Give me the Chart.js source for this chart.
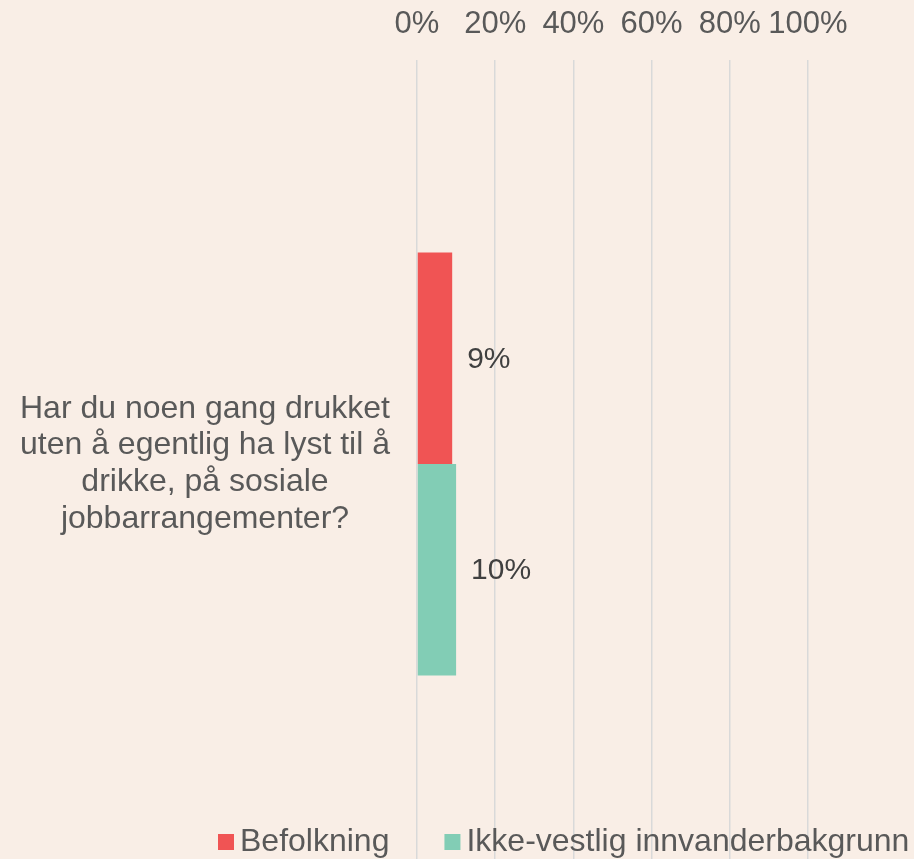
<!DOCTYPE html>
<html>
<head>
<meta charset="utf-8">
<script src="https://cdn.jsdelivr.net/npm/chart.js@4.4.0/dist/chart.umd.min.js"></script>
<style>
  html, body { margin: 0; padding: 0; overflow: hidden; background: #F9EEE6; }
  #wrap { width: 914px; height: 877px; }
</style>
</head>
<body>
<div id="wrap"><canvas id="chart" width="914" height="877"></canvas></div>
<script>
const categories = [
  ['Har du noen gang drukket', 'uten å egentlig ha lyst til å', 'drikke, på sosiale', 'jobbarrangementer?']
];
const seriesNames = ['Befolkning', 'Ikke-vestlig innvanderbakgrunn'];
const befolkning = [9];
const ikkeVestlig = [10];
const tickValues = [0, 20, 40, 60, 80, 100];

const colors = ['#F05454', '#82CDB5'];
const textGray = '#595959';
const fontFamily = '"Liberation Sans", Arial, sans-serif';

// value labels to the right of each bar
const barLabels = {
  id: 'barLabels',
  afterDatasetsDraw(chart) {
    const ctx = chart.ctx;
    ctx.save();
    ctx.font = '30px ' + fontFamily;
    ctx.fillStyle = '#404040';
    ctx.textAlign = 'left';
    ctx.textBaseline = 'middle';
    chart.data.datasets.forEach((ds, i) => {
      const meta = chart.getDatasetMeta(i);
      meta.data.forEach((bar, j) => {
        ctx.fillText(ds.data[j] + '%', bar.x + 15, bar.y + 1);
      });
    });
    ctx.restore();
  }
};

// legend drawn over the grid at the bottom, like the original
const bottomLegend = {
  id: 'bottomLegend',
  afterDraw(chart) {
    const ctx = chart.ctx;
    ctx.save();
    ctx.font = '32px ' + fontFamily;
    ctx.textBaseline = 'middle';
    ctx.textAlign = 'left';
    const y = 842;
    let x = 218;
    chart.data.datasets.forEach((ds, i) => {
      ctx.fillStyle = ds.backgroundColor;
      ctx.fillRect(x, y - 8, 16, 16);
      ctx.fillStyle = textGray;
      ctx.fillText(ds.label, x + 22, y);
      x += 22 + ctx.measureText(ds.label).width + 55;
    });
    ctx.restore();
  }
};

new Chart(document.getElementById('chart'), {
  type: 'bar',
  data: {
    labels: categories,
    datasets: [
      { label: seriesNames[0], data: befolkning, backgroundColor: colors[0] },
      { label: seriesNames[1], data: ikkeVestlig, backgroundColor: colors[1] }
    ]
  },
  options: {
    indexAxis: 'y',
    responsive: false,
    animation: false,
    layout: { padding: { top: 0, right: 106, bottom: 9, left: 0 } },
    datasets: {
      bar: { barPercentage: 1, categoryPercentage: 0.5235 }
    },
    scales: {
      x: {
        position: 'top',
        min: 0,
        max: 100,
        afterBuildTicks: scale => { scale.ticks = tickValues.map(v => ({ value: v })); },
        afterFit: scale => { scale.height = 60; scale.paddingLeft = 0; scale.paddingRight = 0; },
        grid: { color: '#D9D9D9', lineWidth: 1.5, drawTicks: false },
        border: { display: false },
        ticks: {
          padding: 17,
          maxRotation: 0,
          minRotation: 0,
          autoSkip: false,
          color: textGray,
          font: { family: fontFamily, size: 31 },
          callback: v => v + '%'
        }
      },
      y: {
        afterFit: scale => { scale.width = 417; scale.paddingTop = 0; scale.paddingBottom = 0; },
        grid: { display: false },
        border: { display: false },
        ticks: {
          padding: 19,
          crossAlign: 'center',
          color: textGray,
          font: { family: fontFamily, size: 32, lineHeight: 1.15 }
        }
      }
    },
    plugins: {
      legend: { display: false },
      tooltip: { enabled: false }
    }
  },
  plugins: [barLabels, bottomLegend]
});
</script>
</body>
</html>
